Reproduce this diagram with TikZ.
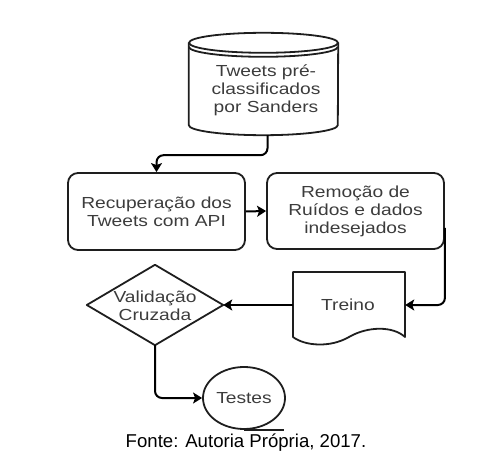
\documentclass[tikz,border=0pt]{standalone}
\usepackage{fontspec}
\setmainfont{Liberation Sans}
\newfontfamily\widesans[FakeStretch=1.2]{Liberation Sans}
\usetikzlibrary{arrows.meta,calc,shapes.geometric}
\definecolor{txt}{RGB}{60,60,60}
\definecolor{edge}{RGB}{30,30,30}
\begin{document}
\begin{tikzpicture}[x=1pt,y=-1pt,
  shapeline/.style={draw=edge,line width=1.8pt},
  lbl/.style={text=txt,font=\widesans\fontsize{16}{18}\selectfont,align=center,inner sep=0pt},
  procbox/.style={shapeline,rounded corners=10pt,minimum width=177pt,minimum height=77pt,
     lbl},
  conn/.style={draw=black,line width=2pt,rounded corners=7pt,
     -{Stealth[length=9pt,width=11pt,inset=2pt]}}]
\useasboundingbox (0,0) rectangle (496,468);
% cylinder
\node[inner sep=0pt,minimum width=149pt,minimum height=102pt] (db) at (263.5,84) {};
\draw[shapeline,line join=round] (db.north west) ++(0,10) -- ($(db.south west)+(0,-10)$)
   arc[start angle=180,end angle=360,x radius=74.5,y radius=-10] -- ($(db.north east)+(0,10)$);
\draw[shapeline] ($(db.north)+(0,10)$) ellipse [x radius=74.5,y radius=10];
\draw[shapeline] ($(db.north west)+(0,14)$) arc[start angle=180,end angle=360,x radius=74.5,y radius=-10];
\node[lbl] (dbtext) at (266,90) {Tweets pré-\\classificados\\por Sanders};
% process boxes
\node[procbox] (rec) at (156.5,211.5) {Recuperação dos\\Tweets com API};
\node[procbox,minimum height=76pt] (rem) at (355.5,211) {Remoção de\\Ruídos e dados\\indesejados};
% document
\node[inner sep=0pt,minimum width=112pt,minimum height=66pt] (tr) at (349,305) {};
\draw[shapeline,line join=round] (293,337) -- (293,272) -- (405,272) -- (405,337)
   .. controls (393,326) and (368,326) .. (349,337)
   .. controls (330,348) and (305,346) .. cycle;
\node[lbl] (trtext) at (348,305) {Treino};
% decision
\node[inner sep=0pt,minimum width=136pt,minimum height=80pt] (dia) at (155,305) {};
\draw[shapeline,line join=round] (dia.north) -- (dia.east) -- (dia.south) -- (dia.west) -- cycle;
\node[lbl] (diatext) at (155,306) {Validação\\Cruzada};
% terminal
\node[shapeline,ellipse,minimum width=82pt,minimum height=62pt,inner sep=0pt,lbl] (te) at (244,398) {Testes};
\draw[shapeline] (te.south) -- ++(40,0);
% caption
\node[font=\fontsize{18.6}{20}\selectfont,inner sep=0pt] (cap) at (246,443) {Fonte: Autoria Própria, 2017.};
% connectors
\draw[conn] ([xshift=4pt]db.south) -- ++(0,20) -| (rec.north);
\draw[conn] (rec.east) -- (rem.west);
\draw[conn] ([yshift=-17pt]rem.east) |- (tr.east);
\draw[conn] (tr.west) -- (dia.east);
\draw[conn] (dia.south) |- (te.west);
\end{tikzpicture}
\end{document}
